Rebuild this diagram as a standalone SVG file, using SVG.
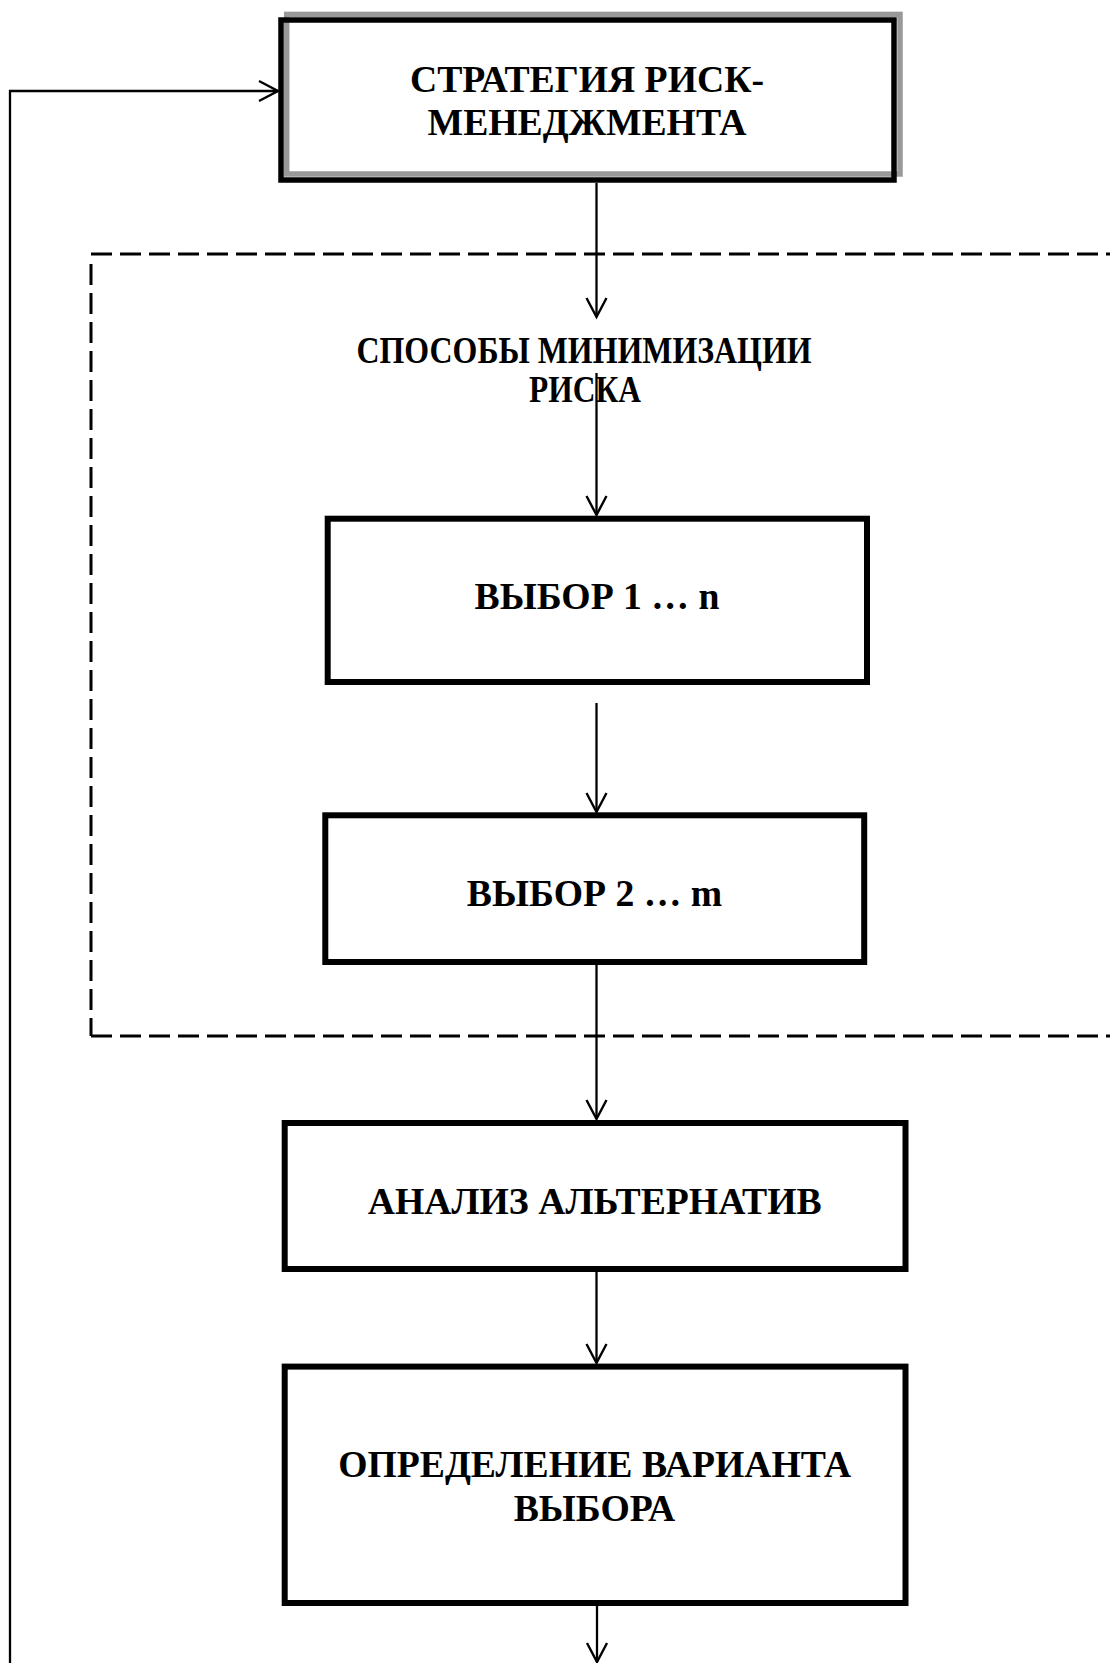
<svg xmlns="http://www.w3.org/2000/svg" width="1110" height="1663" viewBox="0 0 1110 1663">
<style>
  .box { fill: none; stroke: #000; stroke-width: 6; }
  .t { font-family: "Liberation Serif", "Times New Roman", serif; font-weight: bold; font-size: 37.7px; fill: #000; text-anchor: middle; }
  .lbl { font-size: 37px; }
  .conn { fill: none; stroke: #000; stroke-width: 2.3; marker-end: url(#arr); }
  .dash { fill: none; stroke: #000; stroke-width: 3; stroke-dasharray: 21 8; }
</style>
<defs>
  <marker id="arr" markerUnits="userSpaceOnUse" markerWidth="30" markerHeight="30" refX="0" refY="0" orient="auto" overflow="visible">
    <path d="M-19,-10 L0,0 L-19,10" fill="none" stroke="#000" stroke-width="2.4" stroke-linejoin="miter"/>
  </marker>
</defs>
<rect width="1110" height="1663" fill="#fff"/>

<g id="group-minimization">
  <path class="dash" d="M91,254 H1110"/>
  <path class="dash" d="M91,264 V1036"/>
  <path class="dash" d="M91,1036 H1110"/>
</g>

<g id="connectors">
  <path class="conn" d="M10,1663 V91 H278"/>
  <path class="conn" d="M596.5,183 V317"/>
  <path class="conn" d="M596.5,373 V515"/>
  <path class="conn" d="M596.5,703 V812"/>
  <path class="conn" d="M596.5,965 V1119"/>
  <path class="conn" d="M596.5,1272 V1363"/>
  <path class="conn" d="M597,1606 V1662"/>
</g>

<g id="node-strategy">
  <rect x="281" y="20" width="613" height="160" fill="#fff"/>
  <rect x="286.7" y="14.4" width="613.3" height="159.6" fill="none" stroke="#999" stroke-width="5.5"/>
  <rect x="281" y="20" width="613" height="160" fill="none" stroke="#000" stroke-width="5.5"/>
  <text class="t" x="587" y="92.3">СТРАТЕГИЯ РИСК-</text>
  <text class="t" x="587" y="135">МЕНЕДЖМЕНТА</text>
</g>

<g id="node-methods">
  <text class="t lbl" x="584" y="362.7" textLength="455" lengthAdjust="spacingAndGlyphs">СПОСОБЫ МИНИМИЗАЦИИ</text>
  <text class="t lbl" x="585" y="401.7" textLength="112" lengthAdjust="spacingAndGlyphs">РИСКА</text>
</g>

<g id="node-choice1">
  <rect class="box" x="327.7" y="518.7" width="539.3" height="163.3"/>
  <text class="t" x="597" y="609">ВЫБОР 1 … n</text>
</g>

<g id="node-choice2">
  <rect class="box" x="325.3" y="815.3" width="538.9" height="146.7"/>
  <text class="t" x="594.5" y="906">ВЫБОР 2 … m</text>
</g>

<g id="node-analysis">
  <rect class="box" x="284.7" y="1123" width="620.8" height="146"/>
  <text class="t" x="594.7" y="1213.5">АНАЛИЗ АЛЬТЕРНАТИВ</text>
</g>

<g id="node-decision">
  <rect class="box" x="284.7" y="1366.6" width="620.8" height="236.4"/>
  <text class="t" x="594.7" y="1477">ОПРЕДЕЛЕНИЕ ВАРИАНТА</text>
  <text class="t" x="594.5" y="1521">ВЫБОРА</text>
</g>
</svg>
